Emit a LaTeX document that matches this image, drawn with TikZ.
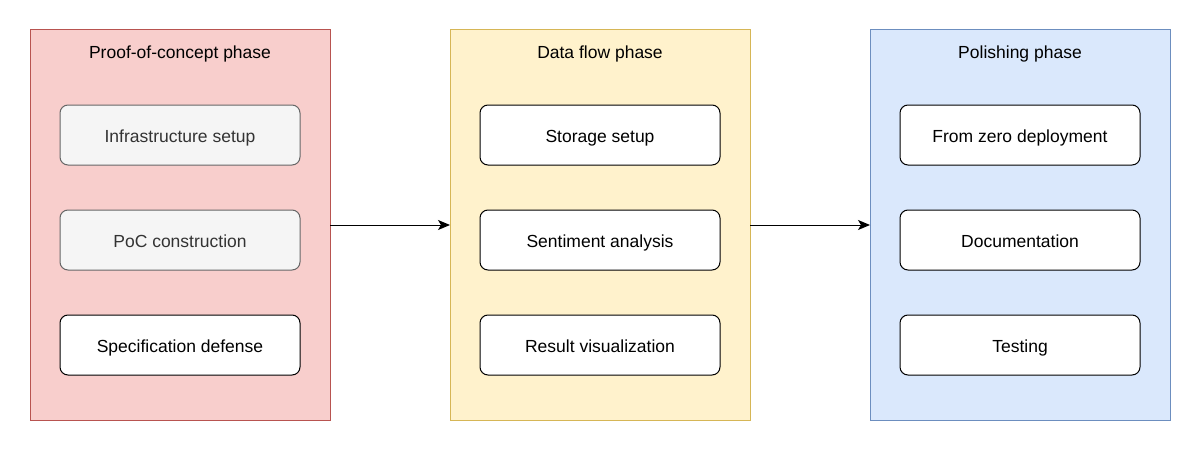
\documentclass[tikz,border=0pt]{standalone}
\usepackage{fontspec}
\setmainfont{Liberation Sans}
\usetikzlibrary{positioning,arrows.meta}

\definecolor{redfill}{HTML}{F8CECC}
\definecolor{redline}{HTML}{B85450}
\definecolor{yelfill}{HTML}{FFF2CC}
\definecolor{yelline}{HTML}{D6B656}
\definecolor{bluefill}{HTML}{DAE8FC}
\definecolor{blueline}{HTML}{6C8EBF}
\definecolor{greyfill}{HTML}{F5F5F5}
\definecolor{greyline}{HTML}{666666}
\definecolor{greytext}{HTML}{333333}

\begin{document}
\begin{tikzpicture}[x=1pt,y=1pt,>={Stealth[length=12pt,width=10pt,inset=3pt]},line width=1pt,
    phase/.style={draw, minimum width=300pt, minimum height=390pt, inner sep=0pt, outer sep=0pt},
    task/.style={draw, fill=white, rounded corners=8pt, minimum width=240pt, minimum height=60pt, inner sep=0pt, outer sep=0pt, text height=18pt, text depth=4pt, font=\fontsize{17.5}{20}\selectfont},
    greytask/.style={task, fill=greyfill, draw=greyline, text=greytext},
    title/.style={text height=18pt, text depth=4pt, font=\fontsize{17.5}{20}\selectfont}]

    \useasboundingbox (0,0) rectangle (1202,-452);

    % phases
    \node[phase, fill=redfill, draw=redline] (p1) at (180,-225) {};
    \node[phase, fill=yelfill, draw=yelline] (p2) [right=120pt of p1] {};
    \node[phase, fill=bluefill, draw=blueline] (p3) [right=120pt of p2] {};

    \node[title] (t1) at ([yshift=-22pt]p1.north) {Proof-of-concept phase};
    \node[title] (t2) at ([yshift=-22pt]p2.north) {Data flow phase};
    \node[title] (t3) at ([yshift=-22pt]p3.north) {Polishing phase};

    % tasks
    \node[greytask] (a1) at ([yshift=-105pt]p1.north) {Infrastructure setup};
    \node[greytask] (a2) [below=45pt of a1] {PoC construction};
    \node[task] (a3) [below=45pt of a2] {Specification defense};

    \node[task] (b1) at ([yshift=-105pt]p2.north) {Storage setup};
    \node[task] (b2) [below=45pt of b1] {Sentiment analysis};
    \node[task] (b3) [below=45pt of b2] {Result visualization};

    \node[task] (c1) at ([yshift=-105pt]p3.north) {From zero deployment};
    \node[task] (c2) [below=45pt of c1] {Documentation};
    \node[task] (c3) [below=45pt of c2] {Testing};

    \draw[->] (p1) -- (p2);
    \draw[->] (p2) -- (p3);
\end{tikzpicture}
\end{document}
